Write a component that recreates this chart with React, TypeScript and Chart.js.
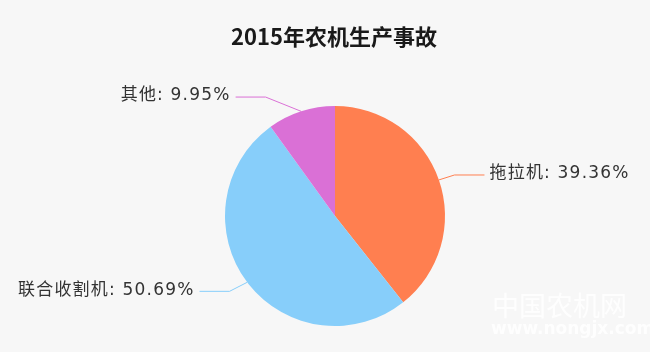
import React, { useEffect, useRef } from "react";
import { Chart, registerables } from "chart.js";

Chart.register(...registerables);

const title = "2015年农机生产事故";
const categories = ["拖拉机", "联合收割机", "其他"];
const shares = [39.36, 50.69, 9.95];
const colors = ["#FF7F50", "#87CEFA", "#DA70D6"];

const labelFont = '17px "DejaVu Sans", "Noto Sans CJK SC", sans-serif';
const LINE_LEN = 15;
const LINE_LEN2 = 30;

const calloutPlugin = {
  id: "callouts",
  afterDatasetsDraw(chart: any) {
    const ctx = chart.ctx as CanvasRenderingContext2D;
    const meta = chart.getDatasetMeta(0);
    const total = shares.reduce((a, b) => a + b, 0);
    type Item = {
      i: number;
      p0x: number;
      p0y: number;
      y: number;
      x3: number;
      dir: number;
    };
    const items: Item[] = [];
    let cx = 0;
    let cy = 0;
    let r = 0;
    meta.data.forEach((arc: any, i: number) => {
      const { x, y, startAngle, endAngle, outerRadius } = arc.getProps(
        ["x", "y", "startAngle", "endAngle", "outerRadius"],
        true
      );
      cx = x;
      cy = y;
      r = outerRadius;
      const mid = (startAngle + endAngle) / 2;
      const dx = Math.cos(mid);
      const dy = Math.sin(mid);
      const dir = dx >= 0 ? 1 : -1;
      items.push({
        i,
        p0x: x + outerRadius * dx,
        p0y: y + outerRadius * dy,
        y: y + (outerRadius + LINE_LEN) * dy,
        x3: x + (outerRadius + LINE_LEN) * dx + dir * LINE_LEN2,
        dir,
      });
    });
    // place labels on a curve around the pie (per side, upper and lower halves)
    const L = r + LINE_LEN + LINE_LEN2;
    [1, -1].forEach((dir) => {
      const side = items.filter((it) => it.dir === dir).sort((a, b) => a.y - b.y);
      const up = side.filter((it) => it.y < cy);
      const down = side.filter((it) => it.y >= cy);
      const changeX = (list: Item[], isDown: boolean) => {
        let last = isDown ? Number.MAX_VALUE : 0;
        list.forEach((it) => {
          const deltaY = Math.abs(it.y - cy);
          let deltaX =
            deltaY < r + LINE_LEN
              ? Math.sqrt(L * L - deltaY * deltaY)
              : Math.abs(it.x3 - cx);
          if (isDown && deltaX >= last) deltaX = last - 10;
          if (!isDown && deltaX <= last) deltaX = last + 10;
          it.x3 = cx + deltaX * dir;
          last = deltaX;
        });
      };
      changeX(up, false);
      changeX(down, true);
    });
    items.forEach((it) => {
      const i = it.i;
      const bendX = it.x3 - it.dir * LINE_LEN2;
      ctx.save();
      ctx.strokeStyle = colors[i];
      ctx.lineWidth = 1;
      ctx.beginPath();
      ctx.moveTo(it.p0x, it.p0y);
      ctx.lineTo(bendX, it.y);
      ctx.lineTo(it.x3, it.y);
      ctx.stroke();
      const pct = ((shares[i] / total) * 100).toFixed(2);
      ctx.font = labelFont;
      (ctx as any).letterSpacing = "1.2px";
      ctx.fillStyle = "#333333";
      ctx.textBaseline = "middle";
      ctx.textAlign = it.dir > 0 ? "left" : "right";
      ctx.fillText(`${categories[i]}: ${pct}%`, it.x3 + it.dir * 5, it.y - 1);
      ctx.restore();
    });
  },
  afterDraw(chart: any) {
    const ctx = chart.ctx as CanvasRenderingContext2D;
    ctx.save();
    // title
    ctx.font = 'bold 22px "Noto Sans CJK SC", sans-serif';
    ctx.fillStyle = "#1a1a1a";
    ctx.textAlign = "center";
    ctx.textBaseline = "middle";
    ctx.fillText(title, 334, 37);
    // watermark
    ctx.fillStyle = "rgba(255,255,255,0.85)";
    ctx.font = '27px "Noto Sans CJK SC", sans-serif';
    ctx.textAlign = "left";
    ctx.fillText("中国农机网", 492, 306);
    ctx.font = 'bold 17px "DejaVu Sans", sans-serif';
    ctx.fillText("www.nongjx.com", 491, 330);
    ctx.restore();
  },
};

export default function App() {
  const ref = useRef<HTMLCanvasElement>(null);
  useEffect(() => {
    if (!ref.current) return;
    const chart = new Chart(ref.current, {
      type: "pie",
      data: {
        labels: categories,
        datasets: [
          {
            data: shares,
            backgroundColor: colors,
            borderWidth: 0,
          },
        ],
      },
      options: {
        responsive: false,
        animation: false,
        layout: { padding: { left: 225, right: 205, top: 106, bottom: 26 } },
        plugins: {
          legend: { display: false },
          title: { display: false },
          tooltip: { enabled: false },
        },
      },
      plugins: [calloutPlugin],
    });
    return () => chart.destroy();
  }, []);
  return (
    <div
      style={{
        position: "absolute",
        left: 0,
        top: 0,
        width: 650,
        height: 352,
        background: "#f7f7f7",
      }}
    >
      <canvas ref={ref} width={650} height={352} />
    </div>
  );
}
